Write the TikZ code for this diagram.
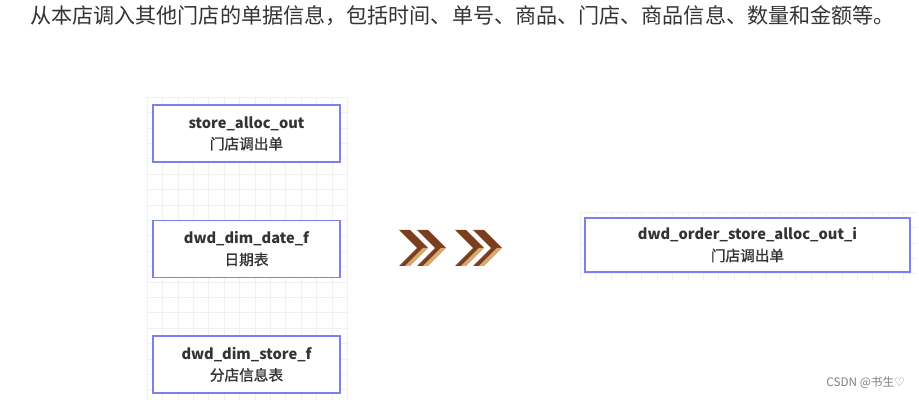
\documentclass[tikz,border=0pt]{standalone}
\usepackage{fontspec}
\setmainfont{Noto Sans CJK SC}
\newfontfamily\symfont{DejaVu Sans}
\newfontfamily\cjkmid[FakeBold=1.2]{Noto Sans CJK SC}
\usepackage{xcolor}
\usetikzlibrary{positioning}
\definecolor{boxblue}{HTML}{7C80EE}
\definecolor{gridgray}{HTML}{F0F0F0}
\definecolor{chevdark}{HTML}{7A3F1F}
\definecolor{chevlight}{HTML}{D9A86B}
\definecolor{textgray}{HTML}{333333}
\tikzstyle{tbl} = [draw=boxblue, line width=1.1pt, fill=white, minimum width=5.61cm, minimum height=1.71cm, align=center, inner sep=0pt, text=textgray, font=\fontsize{12.5}{18}\selectfont]
\tikzstyle{gridline} = [gridgray, line width=0.5pt]
\newcommand{\tblname}[2]{{\bfseries #1}\\{\cjkmid #2}}

\begin{document}
\begin{tikzpicture}[x=0.03cm, y=-0.03cm]
        \useasboundingbox (0,0) rectangle (919,400);
        % grid behind the tables
        \foreach \gx in {147,162.4,...,349} \draw[gridline] (\gx,97) -- (\gx,400);
        \foreach \gy in {97,112.4,...,400} \draw[gridline] (147,\gy) -- (348,\gy);
        \foreach \gx in {580,595.4,...,919} \draw[gridline] (\gx,212) -- (\gx,280);
        \foreach \gy in {212,227.4,...,281} \draw[gridline] (580,\gy) -- (918,\gy);
        % title
        \node[anchor=west, inner sep=0pt, font=\fontsize{18}{20}\selectfont, text=black!80] (title) at (30,16) {从本店调入其他门店的单据信息，包括时间、单号、商品、门店、商品信息、数量和金额等。};
        % source tables
        \node[tbl] (alloc) at (246.5,133.5) {\tblname{store\_alloc\_out}{门店调出单}};
        \node[tbl] (date) at (246.5,249) {\tblname{dwd\_dim\_date\_f}{日期表}};
        \node[tbl] (store) at (246.5,364.5) {\tblname{dwd\_dim\_store\_f}{分店信息表}};
        % result table
        \node[tbl, minimum width=9.75cm, minimum height=1.62cm] (result) at (747.5,245) {\tblname{dwd\_order\_store\_alloc\_out\_i}{门店调出单}};
        % chevrons
        \foreach \cx in {399,417,455,473} {
            \fill[chevdark] (\cx,230) -- (\cx+11,230) -- (\cx+29,248) -- (\cx+18,248) -- cycle;
            \fill[chevdark] (\cx+18,248) -- (\cx+24,248) -- (\cx+6,266) -- (\cx,266) -- cycle;
            \fill[chevlight] (\cx+24,248) -- (\cx+29,248) -- (\cx+11,266) -- (\cx+6,266) -- cycle;
        }
        % watermark
        \node[anchor=east, inner sep=0pt, font=\fontsize{10}{12}\selectfont, text=black!50] (mark) at (905,383) {CSDN @书生{\symfont ♡}};
    \end{tikzpicture}
\end{document}
